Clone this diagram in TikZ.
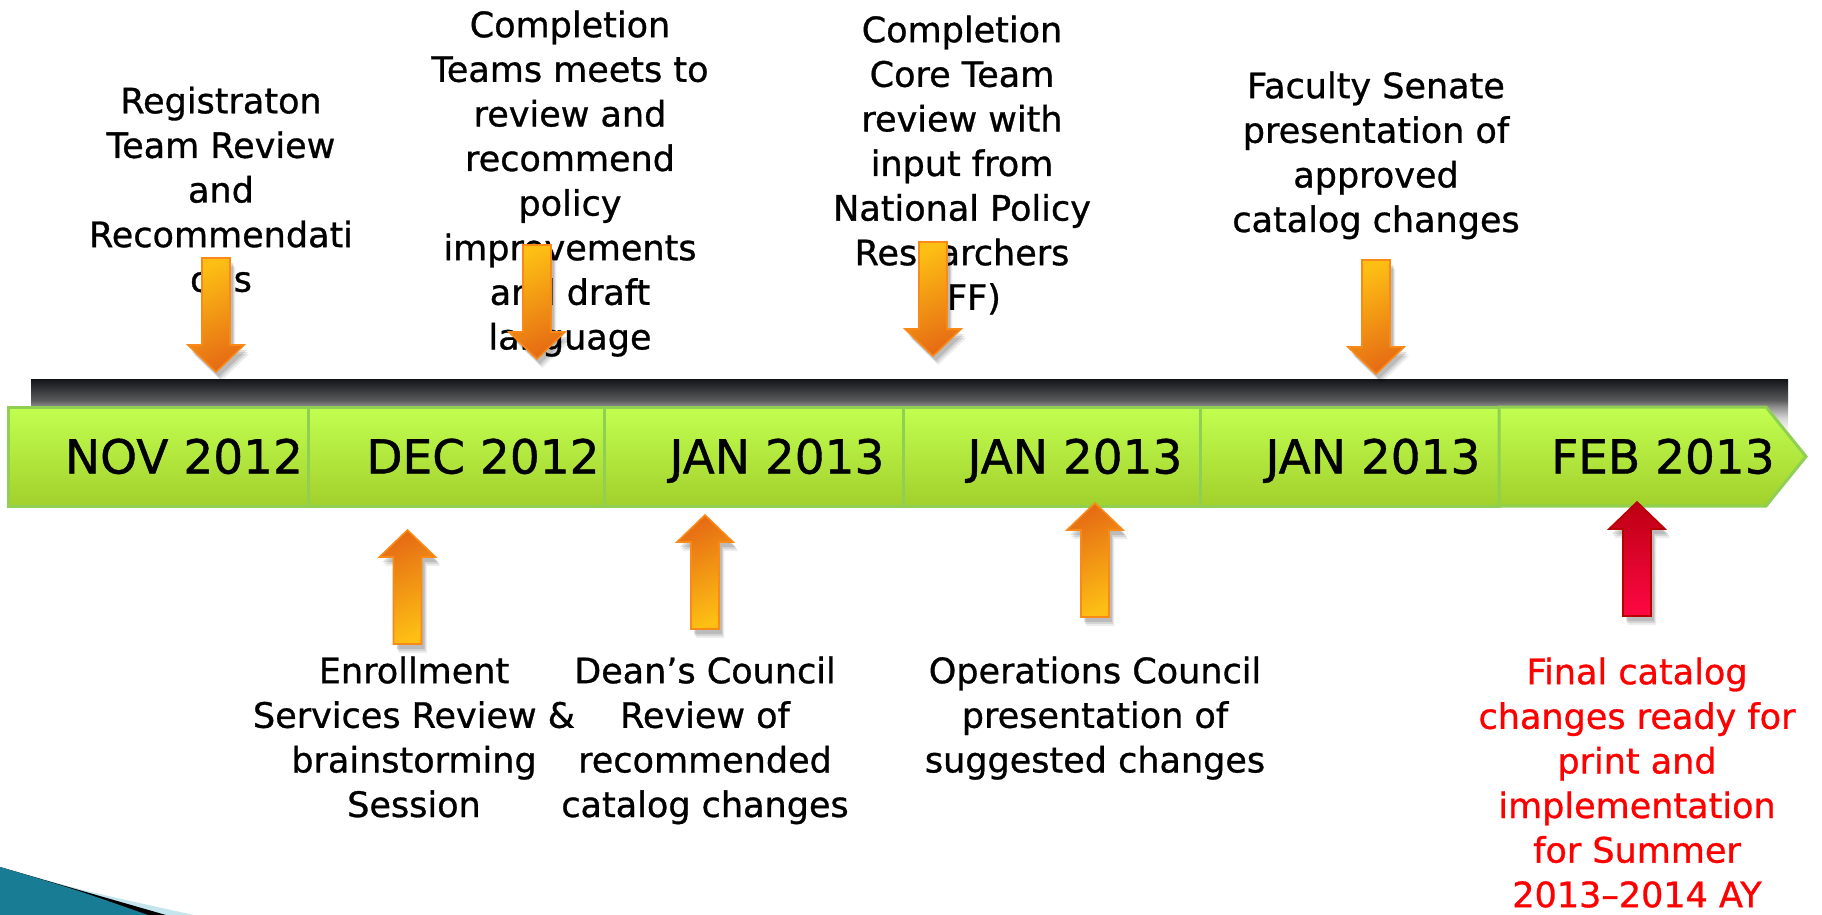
\documentclass[tikz,border=0pt]{standalone}
\usepackage{fontspec}
\setmainfont[FakeBold=0.9]{DejaVu Sans}
\usetikzlibrary{positioning}

\definecolor{limetop}{HTML}{C2FF50}
\definecolor{limebottom}{HTML}{A2D02C}
\definecolor{segborder}{HTML}{8FD052}
\definecolor{arryellow}{HTML}{FDBF14}
\definecolor{arrorange}{HTML}{E66C14}
\definecolor{arrborder}{HTML}{F98A18}
\definecolor{redtop}{HTML}{BC0012}
\definecolor{redbottom}{HTML}{FF0844}
\definecolor{redborder}{HTML}{B80000}
\definecolor{finalred}{HTML}{FF0000}
\definecolor{swoopteal}{HTML}{187C94}
\definecolor{swooplight}{HTML}{C4E4EE}
\definecolor{barA}{HTML}{121417}
\definecolor{barB}{HTML}{2A2C2F}
\definecolor{barC}{HTML}{5A5B5C}
\definecolor{barD}{HTML}{8E8E8E}
\definecolor{barE}{HTML}{D6D6D6}

\pgfdeclareverticalshading{barfade}{100bp}{color(0bp)=(white); color(25bp)=(white); color(38bp)=(barE); color(49bp)=(barD); color(55bp)=(barC); color(68bp)=(barB); color(75bp)=(barA); color(100bp)=(barA)}

% block arrow: style, x, tip y, 1 = down / -1 = up
\newcommand{\tlarrow}[4]{%
  \foreach \o/\op in {9/0.07, 7/0.1, 5/0.12}{
    \begin{scope}[shift={(#2pt+\o pt*0.6,-#3pt-\o pt)}, yscale=#4]
      \fill[black, opacity=\op] (0pt,0pt) -- (-28pt,27pt) -- (-14pt,27pt) -- (-14pt,114pt) -- (14pt,114pt) -- (14pt,27pt) -- (28pt,27pt) -- cycle;
    \end{scope}}
  \begin{scope}[shift={(#2pt,-#3pt)}, yscale=#4]
    \filldraw[#1] (0pt,0pt) -- (-28pt,27pt) -- (-14pt,27pt) -- (-14pt,114pt) -- (14pt,114pt) -- (14pt,27pt) -- (28pt,27pt) -- cycle;
  \end{scope}}

\begin{document}
\begin{tikzpicture}[seg/.style={draw=segborder, line width=3pt, top color=limetop, bottom color=limebottom}, month/.style={font=\fontsize{47}{56}\selectfont, anchor=base, inner sep=0pt}, note/.style={font=\fontsize{35}{44.6}\selectfont, align=center, anchor=north, inner sep=0pt}, final/.style={note, text=finalred}, orangedown/.style={draw=arrborder, line width=1.6pt, top color=arryellow, bottom color=arrorange, shading angle=25}, orangeup/.style={draw=arrborder, line width=1.6pt, top color=arrorange, bottom color=arryellow, shading angle=25}, redup/.style={draw=redborder, line width=1.6pt, top color=redtop, bottom color=redbottom}]
  \useasboundingbox (0pt, 0pt) rectangle (1822pt, -915pt);

  % theme swoop, bottom left
  \fill[swooplight] (0pt, -915pt) -- (0pt, -867pt) .. controls (80pt, -890pt) .. (194pt, -915pt) -- cycle;
  \fill[black] (0pt, -915pt) -- (0pt, -867pt) .. controls (72pt, -888pt) .. (166pt, -915pt) -- cycle;
  \fill[swoopteal] (0pt, -915pt) -- (0pt, -867pt) .. controls (74pt, -889pt) .. (148pt, -915pt) -- cycle;

  % timeline band
  \path[shading=barfade] (31pt, -379pt) rectangle (1788pt, -432pt);
  \foreach \a/\b in {8/308, 308/604, 604/903, 903/1200, 1200/1499}
    \path[seg] (\a pt, -407pt) rectangle (\b pt, -506pt);
  \path[seg] (1499pt, -407pt) -- (1766pt, -407pt) -- (1806pt, -456.5pt) -- (1766pt, -506pt) -- (1499pt, -506pt) -- cycle;

  \draw (184pt, -473.5pt)node[month](nov){NOV 2012};
  \draw (483pt, -473.5pt)node[month](dec){DEC 2012};
  \draw (777pt, -473.5pt)node[month](jana){JAN 2013};
  \draw (1075pt, -473.5pt)node[month](janb){JAN 2013};
  \draw (1373pt, -473.5pt)node[month](janc){JAN 2013};
  \draw (1663pt, -473.5pt)node[month](feb){FEB 2013};

  % steps above the line
  \draw (221pt, -86.5pt)node[note](regteam){Registraton\\Team Review\\and\\Recommendati\\ons};
  \draw (570pt, -10.4pt)node[note](compteams){Completion\\Teams meets to\\review and\\recommend\\policy\\improvements\\and draft\\language};
  \draw (962pt, -15.4pt)node[note](coreteam){Completion\\Core Team\\review with\\input from\\National Policy\\Researchers\\(JFF)};
  \draw (1376pt, -71.4pt)node[note](senate){Faculty Senate\\presentation of\\approved\\catalog changes};

  % steps below the line
  \draw (414pt, -656.4pt)node[note](enroll){Enrollment\\Services Review \&\\brainstorming\\Session};
  \draw (705pt, -656.4pt)node[note](deans){Dean’s Council\\Review of\\recommended\\catalog changes};
  \draw (1095pt, -656.4pt)node[note](opscouncil){Operations Council\\presentation of\\suggested changes};
  \draw (1637pt, -657.4pt)node[final](finalcat){Final catalog\\changes ready for\\print and\\implementation\\for Summer\\2013–2014 AY};

  % pointers
  \tlarrow{orangedown}{216}{372}{1}
  \tlarrow{orangedown}{537}{359}{1}
  \tlarrow{orangedown}{933}{356}{1}
  \tlarrow{orangedown}{1376}{374}{1}
  \tlarrow{orangeup}{407.5}{530}{-1}
  \tlarrow{orangeup}{705}{515}{-1}
  \tlarrow{orangeup}{1095}{503}{-1}
  \tlarrow{redup}{1637}{502}{-1}
\end{tikzpicture}
\end{document}
